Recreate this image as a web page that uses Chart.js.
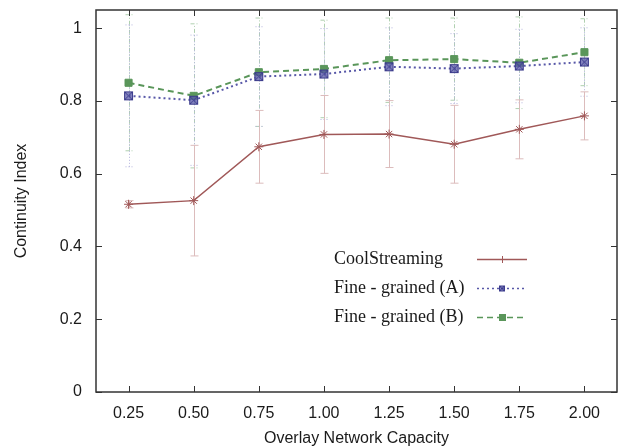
<!DOCTYPE html>
<html>
<head>
<meta charset="utf-8">
<script src="https://cdn.jsdelivr.net/npm/chart.js@4"></script>
<style>
  body { margin: 0; background: #fff; }
  #wrap { width: 631px; height: 448px; }
</style>
</head>
<body>
<div id="wrap"><canvas id="ciChart" width="631" height="448"></canvas></div>
<script>
// overlay capacity on the x axis
const capacity = [0.25, 0.50, 0.75, 1.00, 1.25, 1.50, 1.75, 2.00];

// mean continuity index per scheme
const coolStreaming = [0.516, 0.526, 0.674, 0.708, 0.709, 0.681, 0.722, 0.759];
const fineA = [0.814, 0.802, 0.867, 0.874, 0.894, 0.889, 0.896, 0.907];
const fineB = [0.850, 0.814, 0.879, 0.888, 0.912, 0.915, 0.905, 0.934];

// half-width of each error bar
const coolErr = [0.010, 0.152, 0.100, 0.107, 0.092, 0.107, 0.081, 0.066];
const fineAErr = [0.195, 0.179, 0.137, 0.125, 0.107, 0.096, 0.101, 0.094];
const fineBErr = [0.187, 0.198, 0.149, 0.134, 0.116, 0.113, 0.126, 0.092];

const xTicks = [0.25, 0.50, 0.75, 1.00, 1.25, 1.50, 1.75, 2.00];
const yTicks = [0, 0.2, 0.4, 0.6, 0.8, 1];

const seriesNames = ["CoolStreaming", "Fine - grained (A)", "Fine - grained (B)"];

const RED = "#a05858";
const BLUE = "#5858a8";
const GREEN = "#5a965a";

function pts(vals) {
    return capacity.map((c, i) => ({ x: c, y: vals[i] }));
}

// square marker with a cross through it
function crossBox(size) {
    const c = document.createElement("canvas");
    c.width = size; c.height = size;
    const g = c.getContext("2d");
    g.fillStyle = "rgba(88,88,168,0.75)";
    g.fillRect(1, 1, size - 2, size - 2);
    g.strokeStyle = "#3c3c8c";
    g.lineWidth = 1;
    g.strokeRect(1.5, 1.5, size - 3, size - 3);
    g.beginPath();
    g.moveTo(2, 2); g.lineTo(size - 2, size - 2);
    g.moveTo(size - 2, 2); g.lineTo(2, size - 2);
    g.stroke();
    return c;
}

const errorBars = {
    id: "errorBars",
    beforeDatasetsDraw(chart) {
        const ctx = chart.ctx;
        const xs = chart.scales.x, ys = chart.scales.y;
        const area = chart.chartArea;
        const styles = [
            { color: "#dcbcbc", dash: [] },
            { color: "#b4b4dc", dash: [1, 2] },
            { color: "#b0d0b0", dash: [4, 2, 1, 2] }
        ];
        const errs = [coolErr, fineAErr, fineBErr];
        const means = [coolStreaming, fineA, fineB];
        ctx.save();
        ctx.beginPath();
        ctx.rect(area.left, area.top, area.right - area.left, area.bottom - area.top);
        ctx.clip();
        [2, 1, 0].forEach(s => {
            ctx.strokeStyle = styles[s].color;
            ctx.setLineDash(styles[s].dash);
            ctx.lineWidth = 1;
            capacity.forEach((c, i) => {
                const px = Math.round(xs.getPixelForValue(c)) + 0.5;
                const lo = ys.getPixelForValue(means[s][i] - errs[s][i]);
                const hi = ys.getPixelForValue(means[s][i] + errs[s][i]);
                ctx.beginPath();
                ctx.moveTo(px, lo); ctx.lineTo(px, hi);
                ctx.moveTo(px - 4, lo); ctx.lineTo(px + 4, lo);
                ctx.moveTo(px - 4, hi); ctx.lineTo(px + 4, hi);
                ctx.stroke();
            });
        });
        ctx.restore();
    }
};

const frameAndKey = {
    id: "frameAndKey",
    afterDraw(chart) {
        const ctx = chart.ctx;
        const a = chart.chartArea;
        const xs = chart.scales.x, ys = chart.scales.y;
        ctx.save();
        ctx.strokeStyle = "#333";
        ctx.lineWidth = 1.5;
        ctx.setLineDash([]);
        ctx.strokeRect(a.left, a.top, a.right - a.left, a.bottom - a.top);
        ctx.lineWidth = 1;
        ctx.beginPath();
        xTicks.forEach(v => {
            const px = Math.round(xs.getPixelForValue(v)) + 0.5;
            ctx.moveTo(px, a.bottom); ctx.lineTo(px, a.bottom - 6);
            ctx.moveTo(px, a.top); ctx.lineTo(px, a.top + 6);
        });
        yTicks.forEach(v => {
            const py = Math.round(ys.getPixelForValue(v)) + 0.5;
            ctx.moveTo(a.left, py); ctx.lineTo(a.left + 6, py);
            ctx.moveTo(a.right, py); ctx.lineTo(a.right - 6, py);
        });
        ctx.stroke();

        // key, lower right inside the plot
        const rows = [259, 288, 317];
        ctx.font = '18px "Liberation Serif", serif';
        ctx.fillStyle = "#1a1a1a";
        ctx.textBaseline = "middle";
        ctx.textAlign = "left";
        chart.data.datasets.forEach((ds, i) => {
            const y = rows[i];
            ctx.fillText(seriesNames[i], 334, y);
            ctx.strokeStyle = ds.borderColor;
            ctx.lineWidth = 1.5;
            ctx.setLineDash(ds.borderDash || []);
            ctx.beginPath();
            ctx.moveTo(477, y + 0.5); ctx.lineTo(527, y + 0.5);
            ctx.stroke();
            ctx.setLineDash([]);
            if (i === 1) {
                ctx.drawImage(crossBox(8), 498, y - 3.5);
            } else if (i === 2) {
                ctx.fillStyle = GREEN;
                ctx.fillRect(499, y - 3, 7, 7);
                ctx.fillStyle = "#1a1a1a";
            } else {
                ctx.strokeStyle = RED;
                ctx.lineWidth = 1;
                ctx.beginPath();
                ctx.moveTo(502.5, y - 3); ctx.lineTo(502.5, y + 4);
                ctx.stroke();
            }
        });
        ctx.restore();
    }
};

new Chart(document.getElementById("ciChart"), {
    type: "line",
    data: {
        datasets: [
            {
                label: seriesNames[0],
                data: pts(coolStreaming),
                borderColor: RED,
                backgroundColor: RED,
                borderWidth: 1.5,
                pointStyle: "star",
                pointRadius: 4.5,
                pointBorderWidth: 1,
                tension: 0
            },
            {
                label: seriesNames[1],
                data: pts(fineA),
                borderColor: BLUE,
                backgroundColor: BLUE,
                borderWidth: 2,
                borderDash: [2, 3],
                pointStyle: crossBox(11),
                tension: 0
            },
            {
                label: seriesNames[2],
                data: pts(fineB),
                borderColor: GREEN,
                backgroundColor: GREEN,
                borderWidth: 2,
                borderDash: [6, 4],
                pointStyle: "rect",
                pointRadius: 5,
                pointBorderWidth: 1,
                tension: 0
            }
        ]
    },
    options: {
        responsive: false,
        animation: false,
        layout: { padding: { top: 10, right: 14, left: 0, bottom: 0 } },
        plugins: {
            legend: { display: false },
            tooltip: { enabled: false }
        },
        scales: {
            x: {
                type: "linear",
                min: 0.125,
                max: 2.125,
                afterBuildTicks: s => { s.ticks = xTicks.map(v => ({ value: v })); },
                afterFit: s => { s.height = 56; s.paddingLeft = 0; s.paddingRight = 0; },
                grid: { display: false },
                border: { display: false },
                ticks: {
                    padding: 4,
                    color: "#1a1a1a",
                    font: { family: '"Liberation Sans", Arial, sans-serif', size: 16 },
                    callback: v => v.toFixed(2)
                },
                title: {
                    display: true,
                    text: "Overlay Network Capacity",
                    color: "#1a1a1a",
                    padding: { top: 6, bottom: 0 },
                    font: { family: '"Liberation Sans", Arial, sans-serif', size: 16 }
                }
            },
            y: {
                min: 0,
                max: 1.05,
                afterBuildTicks: s => { s.ticks = yTicks.map(v => ({ value: v })); },
                afterFit: s => { s.width = 96; s.paddingTop = 0; s.paddingBottom = 0; },
                grid: { display: false },
                border: { display: false },
                ticks: {
                    padding: 6,
                    color: "#1a1a1a",
                    font: { family: '"Liberation Sans", Arial, sans-serif', size: 16 },
                    callback: v => (v === 0 || v === 1) ? String(v) : v.toFixed(1)
                },
                title: {
                    display: true,
                    text: "Continuity Index",
                    color: "#1a1a1a",
                    padding: { top: 12, bottom: 0 },
                    font: { family: '"Liberation Sans", Arial, sans-serif', size: 16 }
                }
            }
        }
    },
    plugins: [errorBars, frameAndKey]
});
</script>
</body>
</html>
